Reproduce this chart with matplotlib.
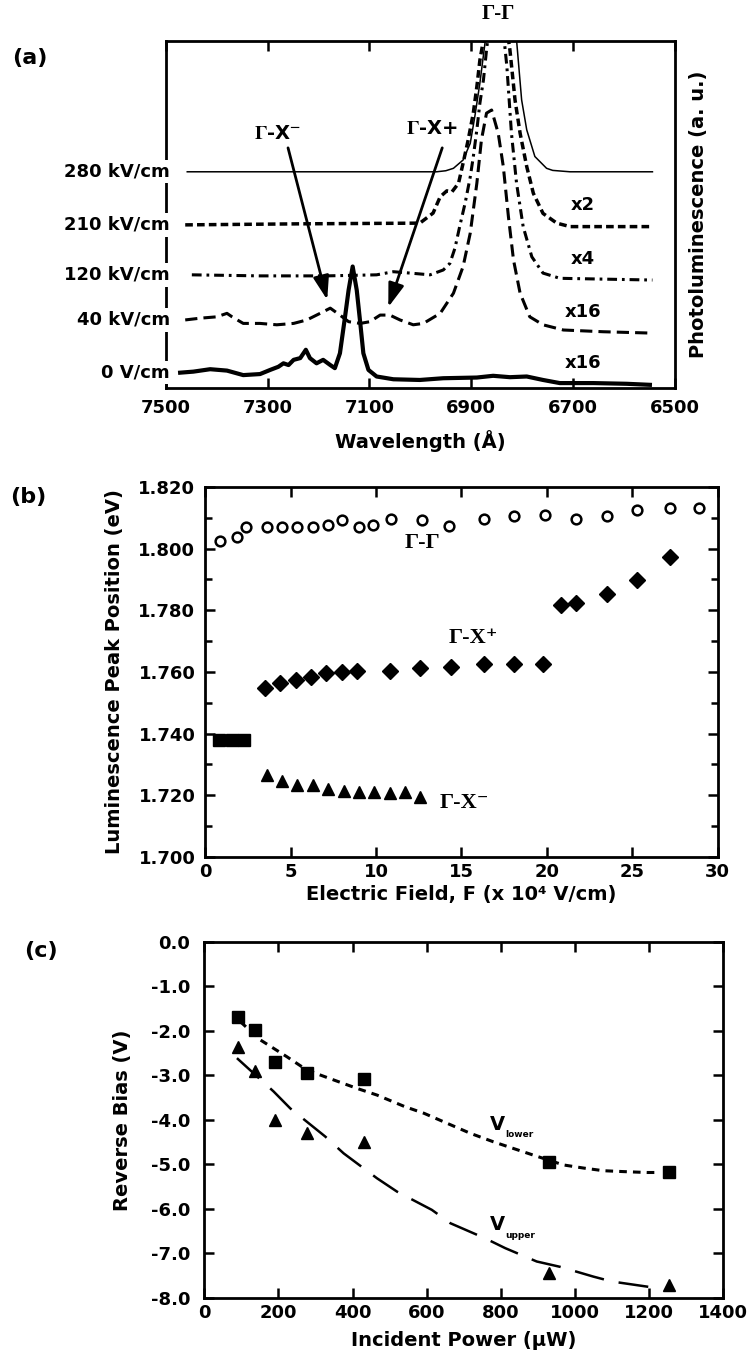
import matplotlib
matplotlib.use("Agg")
import matplotlib.pyplot as plt
from matplotlib import transforms
from matplotlib.ticker import MultipleLocator, FormatStrFormatter

plt.rcParams['font.family'] = ['DejaVu Sans']
plt.rcParams['font.weight'] = 'bold'
plt.rcParams['axes.labelweight'] = 'bold'
plt.rcParams['axes.unicode_minus'] = False
plt.rcParams['mathtext.fontset'] = 'stix'

SERIF = ['Liberation Serif', 'DejaVu Serif']

# (a) PL spectra: wavelength (A) and offset intensity (a.u.)
wl_280 = [7458, 6968, 6950, 6935, 6916, 6902, 6893, 6883, 6873, 6862, 6822, 6811, 6801, 6791,
          6775, 6752, 6740, 6706, 6544]
pl_280 = [6.23, 6.23, 6.26, 6.33, 6.57, 7.05, 7.82, 8.79, 9.94, 11.0, 11.0, 10.03, 8.30, 7.44,
          6.67, 6.33, 6.27, 6.23, 6.23]

wl_210 = [7462, 7236, 7001, 6975, 6961, 6948, 6938, 6925, 6916, 6906, 6896, 6889, 6883, 6876,
          6866, 6836, 6824, 6814, 6804, 6791, 6778, 6759, 6732, 6706, 6544]
pl_210 = [4.70, 4.73, 4.75, 5.04, 5.51, 5.68, 5.65, 5.90, 6.48, 7.15, 7.92, 8.68, 9.45, 10.03,
          11.0, 11.0, 9.74, 8.30, 7.34, 6.38, 5.61, 5.03, 4.75, 4.65, 4.65]

wl_120 = [7449, 7315, 7184, 7086, 7053, 7020, 6981, 6955, 6942, 6932, 6922, 6912, 6902, 6896,
          6889, 6883, 6876, 6870, 6860, 6842, 6830, 6821, 6811, 6798, 6781, 6759, 6726, 6544]
pl_120 = [3.26, 3.23, 3.23, 3.26, 3.35, 3.31, 3.26, 3.40, 3.59, 4.03, 4.70, 5.33, 6.08, 6.66,
          7.44, 8.21, 8.88, 9.74, 11.0, 11.0, 9.26, 7.34, 5.90, 4.65, 3.78, 3.31, 3.16, 3.11]

wl_40 = [7462, 7433, 7400, 7380, 7370, 7348, 7315, 7282, 7249, 7223, 7197, 7177, 7158, 7141,
         7118, 7099, 7079, 7060, 7040, 7014, 6994, 6961, 6935, 6916, 6902, 6889, 6880, 6870,
         6860, 6847, 6837, 6827, 6817, 6804, 6785, 6759, 6719, 6641, 6544]
pl_40 = [1.96, 2.01, 2.05, 2.15, 2.05, 1.86, 1.86, 1.82, 1.86, 1.96, 2.15, 2.30, 2.10, 1.91,
         1.86, 1.91, 2.10, 2.10, 1.96, 1.82, 1.86, 2.15, 2.73, 3.50, 4.46, 5.90, 7.15, 7.92,
         8.01, 7.34, 6.38, 4.94, 3.69, 2.73, 2.05, 1.82, 1.67, 1.62, 1.58]

wl_0 = [7472, 7446, 7413, 7380, 7348, 7315, 7295, 7279, 7269, 7259, 7249, 7236, 7225, 7217,
        7204, 7191, 7177, 7168, 7158, 7148, 7141, 7133, 7125, 7118, 7112, 7102, 7086, 7053,
        7001, 6955, 6889, 6857, 6824, 6791, 6759, 6726, 6660, 6595, 6549]
pl_0 = [0.44, 0.47, 0.54, 0.50, 0.37, 0.40, 0.52, 0.61, 0.71, 0.66, 0.81, 0.86, 1.10, 0.86,
        0.71, 0.81, 0.66, 0.57, 1.00, 2.05, 2.82, 3.50, 2.82, 1.86, 1.00, 0.52, 0.33, 0.25,
        0.23, 0.28, 0.30, 0.35, 0.31, 0.33, 0.23, 0.14, 0.14, 0.12, 0.09]

field_labels = ['280 kV/cm', '210 kV/cm', '120 kV/cm', '40 kV/cm', '0 V/cm']
gain_labels = ['', 'x2', 'x4', 'x16', 'x16']
wl_ticks = [7500, 7300, 7100, 6900, 6700, 6500]

# (b) peak positions (eV) vs field (1e4 V/cm)
field_gg = [0.9, 1.85, 2.4, 3.6, 4.5, 5.4, 6.3, 7.2, 8.0, 9.0, 9.8, 10.9, 12.7, 14.3, 16.3,
            18.1, 19.9, 21.7, 23.5, 25.3, 27.2, 28.9]
energy_gg = [1.8023, 1.8037, 1.8071, 1.8071, 1.8071, 1.8071, 1.8071, 1.8075, 1.8093, 1.8071,
             1.8077, 1.8095, 1.8093, 1.8074, 1.8095, 1.8106, 1.8109, 1.8095, 1.8106, 1.8125,
             1.8131, 1.8131]
field_gxp = [3.5, 4.4, 5.3, 6.2, 7.1, 8.0, 8.9, 10.8, 12.6, 14.4, 16.3, 18.1, 19.8, 20.8,
             21.7, 23.5, 25.3, 27.2]
energy_gxp = [1.7547, 1.7563, 1.7574, 1.7585, 1.7596, 1.7601, 1.7604, 1.7604, 1.7612, 1.7617,
              1.7625, 1.7625, 1.7625, 1.7817, 1.7825, 1.7852, 1.7898, 1.7971]
field_sq = [0.8, 1.6, 2.3]
energy_sq = [1.738, 1.738, 1.738]
field_gxm = [3.6, 4.5, 5.4, 6.3, 7.2, 8.1, 9.0, 9.9, 10.8, 11.7, 12.6]
energy_gxm = [1.7266, 1.7245, 1.7234, 1.7232, 1.7220, 1.7213, 1.7212, 1.7211, 1.7206, 1.7212,
              1.7195]

# (c) reverse bias (V) vs incident power (uW)
power = [90, 138, 192, 278, 430, 929, 1254]
bias_lower = [-1.68, -1.98, -2.69, -2.95, -3.08, -4.94, -5.18]
bias_upper = [-2.35, -2.91, -4.00, -4.30, -4.49, -7.45, -7.71]
lower_fit_x = [97, 151, 223, 277, 349, 412, 466, 541, 593, 654, 718, 780, 834, 888, 969, 1023,
               1077, 1131, 1194, 1229]
lower_fit_y = [-1.79, -2.20, -2.58, -2.88, -3.10, -3.29, -3.44, -3.70, -3.85, -4.07, -4.30,
               -4.49, -4.64, -4.79, -5.01, -5.08, -5.14, -5.16, -5.18, -5.18]
upper_fit_x = [88, 187, 232, 326, 376, 466, 520, 614, 664, 758, 812, 897, 960, 1050, 1100,
               1199, 1215]
upper_fit_y = [-2.61, -3.36, -3.74, -4.37, -4.75, -5.31, -5.61, -6.02, -6.32, -6.66, -6.88,
               -7.18, -7.30, -7.52, -7.63, -7.75, -7.78]


def style_axes(ax):
    for s in ax.spines.values():
        s.set_linewidth(2)
    ax.tick_params(which='both', direction='in', top=True, right=True, width=1.8,
                   labelsize=13)
    ax.tick_params(which='major', length=7)
    ax.tick_params(which='minor', length=5)


fig = plt.figure(figsize=(7.54, 13.66), dpi=100)

# ---------------- (a)
ax = fig.add_axes([0.220, 0.716, 0.675, 0.254])
style_axes(ax)
ax.plot(wl_280, pl_280, color='black', lw=1.1)
ax.plot(wl_210, pl_210, color='black', lw=2.5, dashes=(2.2, 1.2))
ax.plot(wl_120, pl_120, color='black', lw=2.2, dashes=(3.2, 1.6, 0.9, 1.6))
ax.plot(wl_40, pl_40, color='black', lw=2.2, dashes=(4, 2))
ax.plot(wl_0, pl_0, color='black', lw=3)
ax.set_xlim(7500, 6500)
ax.set_ylim(0, 10)
ax.set_xticks(wl_ticks)
ax.set_yticks([])
ax.tick_params(axis='x', pad=8)
ax.set_xlabel('Wavelength (Å)', fontsize=14, labelpad=9)
ax.yaxis.set_label_position('right')
ax.set_ylabel('Photoluminescence (a. u.)', fontsize=14, labelpad=10)

blend = transforms.blended_transform_factory(ax.transAxes, ax.transData)
for lab, series in zip(field_labels, [pl_280, pl_210, pl_120, pl_40, pl_0]):
    ax.text(0.008, series[0], lab, transform=blend, ha='right', va='center', fontsize=13,
            bbox=dict(fc='white', ec='none', pad=2))
for lab, series in zip(gain_labels, [pl_280, pl_210, pl_120, pl_40, pl_0]):
    if lab:
        ax.text(6680, series[-1] + 0.62, lab, ha='center', va='center', fontsize=13)

ax.text(6847, 10.78, 'Γ-Γ', family=SERIF, fontweight='bold', fontsize=15,
        ha='center', va='center', clip_on=False)
ax.text(7280, 7.32, r'$\Gamma$-X$^{-}$', fontsize=14, ha='center', va='center')
ax.text(6977, 7.49, r'$\Gamma$-X+', fontsize=14, ha='center', va='center')
arrow = dict(arrowstyle='-|>,head_width=0.3,head_length=0.9', lw=2, color='black',
             mutation_scale=16, shrinkA=0, shrinkB=0)
ax.annotate('', xy=(7183, 2.54), xytext=(7260, 6.92), arrowprops=arrow)
ax.annotate('', xy=(7063, 2.33), xytext=(6957, 6.92), arrowprops=arrow)

# ---------------- (b)
ax = fig.add_axes([0.272, 0.3726, 0.680, 0.271])
style_axes(ax)
ax.plot(field_gg, energy_gg, 'o', ms=7, mfc='white', mec='black', mew=1.8)
ax.plot(field_gxp, energy_gxp, 'D', ms=8, color='black')
ax.plot(field_sq, energy_sq, 's', ms=9, color='black')
ax.plot(field_gxm, energy_gxm, '^', ms=9, color='black')
ax.set_xlim(0, 30)
ax.set_ylim(1.700, 1.820)
ax.xaxis.set_major_locator(MultipleLocator(5))
ax.yaxis.set_major_locator(MultipleLocator(0.02))
ax.yaxis.set_minor_locator(MultipleLocator(0.01))
ax.yaxis.set_major_formatter(FormatStrFormatter('%.3f'))
ax.tick_params(axis='x', pad=4)
ax.tick_params(axis='y', pad=7)
ax.set_xlabel('Electric Field, F (x 10⁴ V/cm)', fontsize=14, labelpad=3)
ax.set_ylabel('Luminescence Peak Position (eV)', fontsize=14, labelpad=10)
ax.text(12.7, 1.8018, 'Γ-Γ', family=SERIF, fontweight='bold', fontsize=16,
        ha='center', va='center')
ax.text(15.7, 1.7710, 'Γ-X⁺', family=SERIF, fontweight='bold', fontsize=16,
        ha='center', va='center')
ax.text(15.2, 1.7175, 'Γ-X⁻', family=SERIF, fontweight='bold', fontsize=16,
        ha='center', va='center')

# ---------------- (c)
ax = fig.add_axes([0.271, 0.0498, 0.688, 0.2606])
style_axes(ax)
ax.plot(lower_fit_x, lower_fit_y, color='black', lw=2.2, dashes=(2.5, 2))
ax.plot(upper_fit_x, upper_fit_y, color='black', lw=1.8, dashes=(12, 6))
ax.plot(power, bias_lower, 's', ms=9, color='black')
ax.plot(power, bias_upper, '^', ms=9, color='black')
ax.set_xlim(0, 1400)
ax.set_ylim(-8, 0)
ax.xaxis.set_major_locator(MultipleLocator(200))
ax.yaxis.set_major_locator(MultipleLocator(1))
ax.yaxis.set_major_formatter(FormatStrFormatter('%.1f'))
ax.tick_params(axis='x', pad=4)
ax.tick_params(axis='y', pad=10)
ax.set_xlabel('Incident Power (μW)', fontsize=14, labelpad=7)
ax.set_ylabel('Reverse Bias (V)', fontsize=14, labelpad=14)
ax.text(772, -4.1, 'V', fontsize=14, ha='left', va='center')
ax.text(812, -4.33, 'lower', fontsize=6.5, ha='left', va='center')
ax.text(772, -6.35, 'V', fontsize=14, ha='left', va='center')
ax.text(812, -6.6, 'upper', fontsize=6.5, ha='left', va='center')

fig.text(0.040, 0.9575, '(a)', fontsize=16, ha='center', va='center')
fig.text(0.038, 0.636, '(b)', fontsize=16, ha='center', va='center')
fig.text(0.054, 0.304, '(c)', fontsize=16, ha='center', va='center')

fig.savefig('out.png', dpi=100)
